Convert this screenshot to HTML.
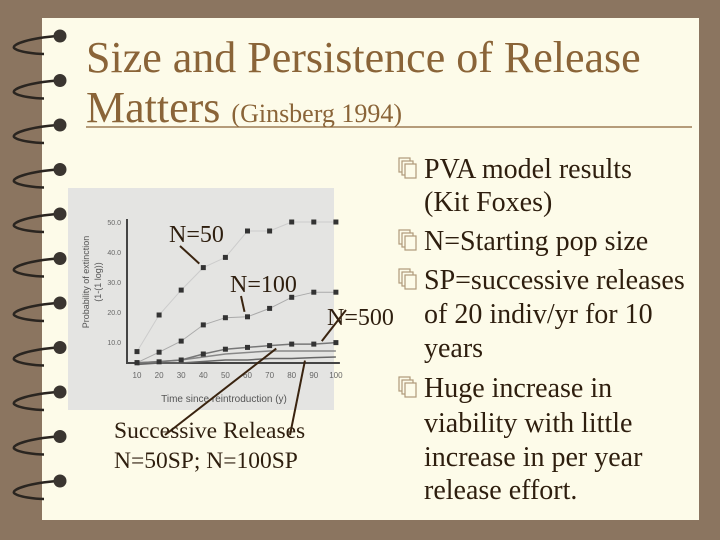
<!DOCTYPE html>
<html><head><meta charset="utf-8">
<style>
html,body{margin:0;padding:0;width:720px;height:540px;overflow:hidden;background:#8b7560;}
svg{display:block;}
</style></head>
<body>
<svg id="slide" width="720" height="540" xmlns="http://www.w3.org/2000/svg">
  <rect x="0" y="0" width="720" height="540" fill="#8b7560"/>
  <rect x="42" y="18" width="657" height="502" fill="#fdfbe9"/>
  <g id="rings"></g>
  <g font-family="Liberation Serif, serif" fill="#8a6438">
    <text x="86" y="72" font-size="44">Size and Persistence of Release</text>
    <text x="86" y="122" font-size="44">Matters <tspan font-size="26">(Ginsberg 1994)</tspan></text>
  </g>
  <line x1="86" y1="127" x2="692" y2="127" stroke="#8a6438" stroke-width="1.2"/>
  <rect x="68" y="188" width="266" height="222" fill="#e4e4e2"/>
  <g id="chart"></g>
  <g id="bullets" font-family="Liberation Serif, serif" font-size="28" fill="#2e1e0e"></g>
</svg>
<script>
const years = [10,20,30,40,50,60,70,80,90,100];
const n50 = [6.8,19,27.3,34.8,38.2,47,47,50,50,50];
const n100 = [3.1,6.6,10.3,15.7,18.1,18.4,21.2,24.9,26.6,26.6];
const n500 = [3.1,3.4,4,6,7.6,8.2,8.8,9.3,9.3,9.8];
const sp50 = [3,3.5,4,5,6,6.5,7,7,7,7];
const sp100 = [2.5,3,3,3.5,4,4,4.5,4.5,4.8,5];
const yTicks = [10,20,30,40,50];
const xTicks = [10,20,30,40,50,60,70,80,90,100];

const NS = 'http://www.w3.org/2000/svg';
function mk(tag, attrs, parent){const e=document.createElementNS(NS,tag);for(const k in attrs)e.setAttribute(k,attrs[k]);parent.appendChild(e);return e;}
const xS = v => 137 + (v-10)*2.21;
const yS = v => 372 - v*3;

const rings = document.getElementById('rings');
for(let i=0;i<11;i++){
  const cy = 36 + i*44.5;
  const p = mk('path',{d:`M58 ${cy} C30 ${cy+2} 12 ${cy+8} 14 ${cy+12} C18 ${cy+16} 36 ${cy+18} 44 ${cy+18}`,fill:'none',stroke:'#2a2520','stroke-width':'2.5'},rings);
  
  
  const c = mk('circle',{cx:60,cy:cy,r:6.5,fill:'#3a3530'},rings);
  
  
}

const chart = document.getElementById('chart');
const ax = mk('path',{d:`M${xS(10)-10} ${yS(50)-3} L${xS(10)-10} 363 L${xS(100)+4} 363`,fill:'none',stroke:'#444','stroke-width':'2'},chart);


yTicks.forEach(t=>{
  const tx = mk('text',{x:xS(10)-16,y:yS(t)+3,'font-size':'7','text-anchor':'end',fill:'#666','font-family':'Liberation Sans, sans-serif'},chart);
  tx.textContent = t.toFixed(1);
  
  
});
xTicks.forEach(t=>{
  const tx = mk('text',{x:xS(t),y:378,'font-size':'8','text-anchor':'middle',fill:'#666','font-family':'Liberation Sans, sans-serif'},chart);
  tx.textContent = t;
  
  
});
const xt = mk('text',{x:224,y:402,'font-size':'10','text-anchor':'middle',fill:'#555','font-family':'Liberation Sans, sans-serif'},chart);
xt.textContent = 'Time since reintroduction (y)';


const yt = mk('text',{x:0,y:0,'font-size':'9','text-anchor':'middle',fill:'#555','font-family':'Liberation Sans, sans-serif',transform:'translate(89,282) rotate(-90)'},chart);
yt.textContent = 'Probability of extinction';


const yt2 = mk('text',{x:0,y:0,'font-size':'9','text-anchor':'middle',fill:'#555','font-family':'Liberation Sans, sans-serif',transform:'translate(101,282) rotate(-90)'},chart);
yt2.textContent = '(1-(1 log))';



function series(vals,name,marker,color,width){
  const pts = years.map((y,i)=>xS(y)+','+yS(vals[i])).join(' ');
  const pl = mk('polyline',{points:pts,fill:'none',stroke:color,'stroke-width':width},chart);
  
  
  if(marker){
    years.forEach((y,i)=>{
      const r = mk('rect',{x:xS(y)-2.5,y:yS(vals[i])-2.5,width:5,height:5,fill:'#333'},chart);
      
      
    });
  }
}
series(n50,'n50',true,'#ccc','1');
series(n100,'n100',true,'#aaa','1');
series(sp50,'n50sp',false,'#888','1.5');
series(sp100,'n100sp',false,'#666','1.5');
series(n500,'n500',true,'#777','1.5');

const ann = [
  ['N=50',169,242,'label-n50'],
  ['N=100',230,292,'label-n100'],
  ['N=500',327,325,'label-n500']
];
ann.forEach(a=>{
  const t = mk('text',{x:a[1],y:a[2],'font-size':'24','font-family':'Liberation Serif, serif',fill:'#2e1e0e'},chart);
  t.textContent = a[0];
  
  
});
const arrows = [
  [180,246,xS(40)-4,yS(n50[3])-4],
  [241,296,xS(60)-3,yS(n100[5])-5],
  [346,310,xS(90)+8,yS(n500[8])-3],
  [165,435,xS(73),yS(n500[6])+3],
  [290,435,xS(86),yS(sp100[8])+3]
];
arrows.forEach(a=>{
  const l = mk('line',{x1:a[0],y1:a[1],x2:a[2],y2:a[3],stroke:'#3a2410','stroke-width':'2'},chart);
  
  
});
const s1 = mk('text',{x:114,y:438,'font-size':'23.5','font-family':'Liberation Serif, serif',fill:'#2e1e0e'},chart);
s1.textContent = 'Successive Releases';


const s2 = mk('text',{x:114,y:468,'font-size':'23.5','font-family':'Liberation Serif, serif',fill:'#2e1e0e'},chart);
s2.textContent = 'N=50SP; N=100SP';



const lines = [
  [true,'PVA model results',178],[false,'(Kit Foxes)',211],
  [true,'N=Starting pop size',250],[true,'SP=successive releases',289],
  [false,'of 20 indiv/yr for 10',323],[false,'years',357],
  [true,'Huge increase in',397],[false,'viability with little',432],
  [false,'increase in per year',466],[false,'release effort.',499]
];
const bl = document.getElementById('bullets');
lines.forEach(l=>{
  if(l[0]){
    const b = mk('g',{},bl);
    
    
    [0,3,6].forEach(o=>{mk('rect',{x:399+o,y:l[2]-20+o,width:11,height:14,fill:'#fdfbe9',stroke:'#b09a7a','stroke-width':'1.2'},b);});
  }
  const t = mk('text',{x:424,y:l[2]},bl);
  t.textContent = l[1];
  
  
});
</script>
</body></html>
